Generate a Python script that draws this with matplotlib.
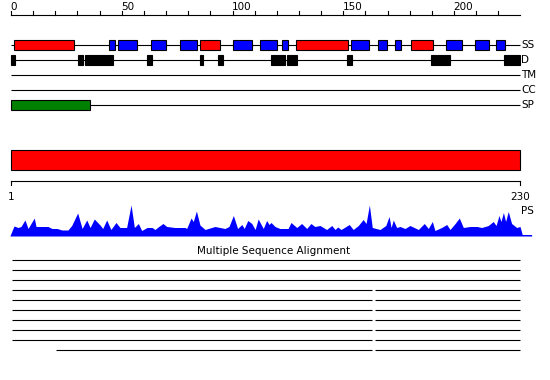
import matplotlib
matplotlib.use("Agg")
import matplotlib.pyplot as plt
from matplotlib.patches import Rectangle

# sequence length and ruler
seq_len = 230
ruler_ticks = list(range(0, 230, 10))
ruler_labels = [0, 50, 100, 150, 200]

# secondary structure: (start, end, kind) - H helix (red), E strand (blue)
ss_elements = [
    (1.5, 28.6, "H"), (44.4, 46.8, "E"), (48.4, 56.8, "E"), (63.2, 69.8, "E"),
    (76.3, 83.8, "E"), (85.5, 94.5, "H"), (100.2, 108.7, "E"), (112.4, 120.0, "E"),
    (122.5, 124.9, "E"), (128.8, 152.0, "H"), (153.6, 161.8, "E"), (165.8, 169.6, "E"),
    (173.4, 175.9, "E"), (180.7, 190.7, "H"), (196.5, 203.8, "E"), (209.5, 215.7, "E"),
    (218.8, 222.9, "E"),
]
# disordered regions
disorder = [
    (0.0, 1.8), (30.2, 32.6), (33.4, 45.9), (61.4, 63.7), (85.3, 86.7),
    (93.5, 95.6), (117.2, 123.7), (124.6, 129.0), (151.8, 153.8),
    (189.8, 198.2), (222.6, 230.0),
]
tm_regions = []
cc_regions = []
sp_regions = [(0.0, 35.5)]

# domain bar
domains = [(0.0, 230.0)]
domain_ruler = (1, 230)

# PS profile (position, score)
ps_pos = [
    -0.5, 1.35, 3.2, 4.5, 6.3, 7.7, 10.5, 11.3, 16.7, 18.5, 20.8, 23.0, 25.7, 27.4,
    30.1, 32.1, 34.2, 35.7, 37.6, 40.2, 41.4, 43.2, 45.1, 47.4, 49.2, 52.2, 54.2,
    55.7, 57.5, 59.0, 61.4, 63.7, 65.0, 66.4, 68.6, 70.3, 74.0, 78.6, 79.3, 81.3,
    82.3, 83.7, 85.3, 87.6, 92.1, 96.6, 98.4, 100.4, 102.3, 104.2, 105.3, 106.9,
    108.7, 110.2, 111.6, 113.9, 115.4, 116.5, 117.4, 119.2, 121.4, 125.1, 126.4,
    129.0, 131.2, 133.5, 135.4, 137.2, 139.5, 142.5, 144.8, 146.3, 147.5, 149.0,
    150.5, 152.7, 154.5, 156.8, 159.0, 160.3, 161.8, 163.1, 166.6, 169.2, 170.7,
    171.6, 172.6, 174.1, 175.6, 177.9, 180.1, 183.9, 186.6, 188.4, 190.2, 191.4,
    194.4, 196.7, 198.2, 200.5, 202.4, 204.2, 207.2, 210.4, 212.5, 215.5, 217.7,
    219.0, 220.3, 221.2, 222.3, 223.3, 224.5, 226.0, 228.3, 229.8, 230.8, 235.0,
    235.1,
]
ps_score = [
    0.0, 10.0, 8.5, 9.5, 16.0, 7.5, 18.0, 9.5, 9.5, 7.5, 7.5, 6.0, 6.0, 10.5,
    23.0, 7.5, 16.0, 8.5, 17.0, 11.0, 7.5, 16.0, 6.5, 13.5, 8.5, 8.5, 31.0,
    8.5, 12.5, 5.5, 8.5, 8.5, 6.5, 9.0, 12.5, 9.5, 8.5, 8.5, 7.5, 18.0,
    14.5, 25.0, 11.0, 6.5, 9.5, 7.5, 9.5, 20.5, 7.5, 11.5, 7.5, 15.5,
    12.5, 6.5, 17.0, 7.5, 15.5, 11.5, 13.5, 9.5, 7.5, 7.5, 13.5,
    8.5, 12.5, 7.5, 12.5, 9.5, 10.5, 6.5, 10.5, 6.5, 9.0, 6.5,
    8.5, 11.5, 6.5, 10.5, 16.5, 12.5, 31.0, 8.5, 6.5, 10.5, 19.5,
    8.5, 16.0, 8.5, 9.5, 7.5, 10.5, 6.5, 12.5, 7.5, 14.5, 5.5,
    8.5, 11.5, 6.5, 12.5, 18.0, 8.5, 9.5, 9.5, 8.5, 10.5, 14.5,
    10.5, 20.5, 14.5, 23.5, 14.5, 24.5, 12.5, 8.5, 9.5, 1.5, 1.5,
    0.0,
]

# multiple sequence alignment rows: list of aligned segments
msa_rows = [
    [(0.5, 229.8)],
    [(0.5, 229.8)],
    [(0.5, 229.8)],
    [(0.5, 163.2), (164.3, 229.8)],
    [(0.5, 163.2), (164.3, 229.8)],
    [(0.5, 163.2), (164.3, 229.8)],
    [(0.5, 163.2), (164.3, 229.8)],
    [(0.5, 163.2), (164.3, 229.8)],
    [(0.5, 163.2), (164.3, 229.8)],
    [(20.3, 163.2), (164.3, 229.8)],
]

SS_COLORS = {"H": "#ff0000", "E": "#0000ff"}
LW = 0.8
FS = 7.5


def draw_track(ax, y, regions, color, label, half=5):
    ax.plot([0, seq_len], [y, y], color="black", lw=LW, solid_capstyle="butt")
    for start, end, *kind in regions:
        c = SS_COLORS[kind[0]] if kind else color
        ax.add_patch(Rectangle((start, y - half), end - start, 2 * half,
                               facecolor=c, edgecolor="black", lw=LW, zorder=3))
    ax.text(seq_len + 0.2, y, label, fontsize=FS, va="center", ha="left")


fig = plt.figure(figsize=(5.5, 3.8), dpi=100)
ax = fig.add_axes([0, 0, 1, 1])
px = 2.215  # pixels per residue
ax.set_xlim(-11 / px, (550 - 11) / px)
ax.set_ylim(380, 0)
ax.axis("off")

# top ruler
ax.plot([0, seq_len], [15, 15], color="black", lw=LW)
for t in ruler_ticks:
    ax.plot([t, t], [11, 15], color="black", lw=LW)
for t in ruler_labels:
    ax.text(t - 0.2, 9.5, str(t), fontsize=FS, ha="left", va="baseline")

draw_track(ax, 45, ss_elements, None, "SS")
draw_track(ax, 60, disorder, "black", "D")
draw_track(ax, 75, tm_regions, "black", "TM")
draw_track(ax, 90, cc_regions, "black", "CC")
draw_track(ax, 105, sp_regions, "#008000", "SP")

# domain bar and its ruler
for start, end in domains:
    ax.add_patch(Rectangle((start, 150), end - start, 20, facecolor="#ff0000",
                           edgecolor="black", lw=LW))
ax.plot([0, seq_len], [180.5, 180.5], color="black", lw=LW)
for t, lab in zip([0, seq_len], domain_ruler):
    ax.plot([t, t], [180.5, 185], color="black", lw=LW)
    ax.text(t, 200, str(lab), fontsize=FS, ha="center", va="baseline")

# PS profile
base = 236
ax.fill_between(ps_pos, base, [base - s for s in ps_score], color="#0000ff", lw=0)
ax.text(seq_len + 0.2, 211, "PS", fontsize=FS, ha="left", va="center")

# MSA
ax.text(118.7, 251, "Multiple Sequence Alignment", fontsize=FS,
        ha="center", va="center")
for i, row in enumerate(msa_rows):
    y = 260 + 10 * i
    for start, end in row:
        ax.plot([start, end], [y, y], color="black", lw=LW, solid_capstyle="butt")

fig.savefig("out.png", dpi=100)
